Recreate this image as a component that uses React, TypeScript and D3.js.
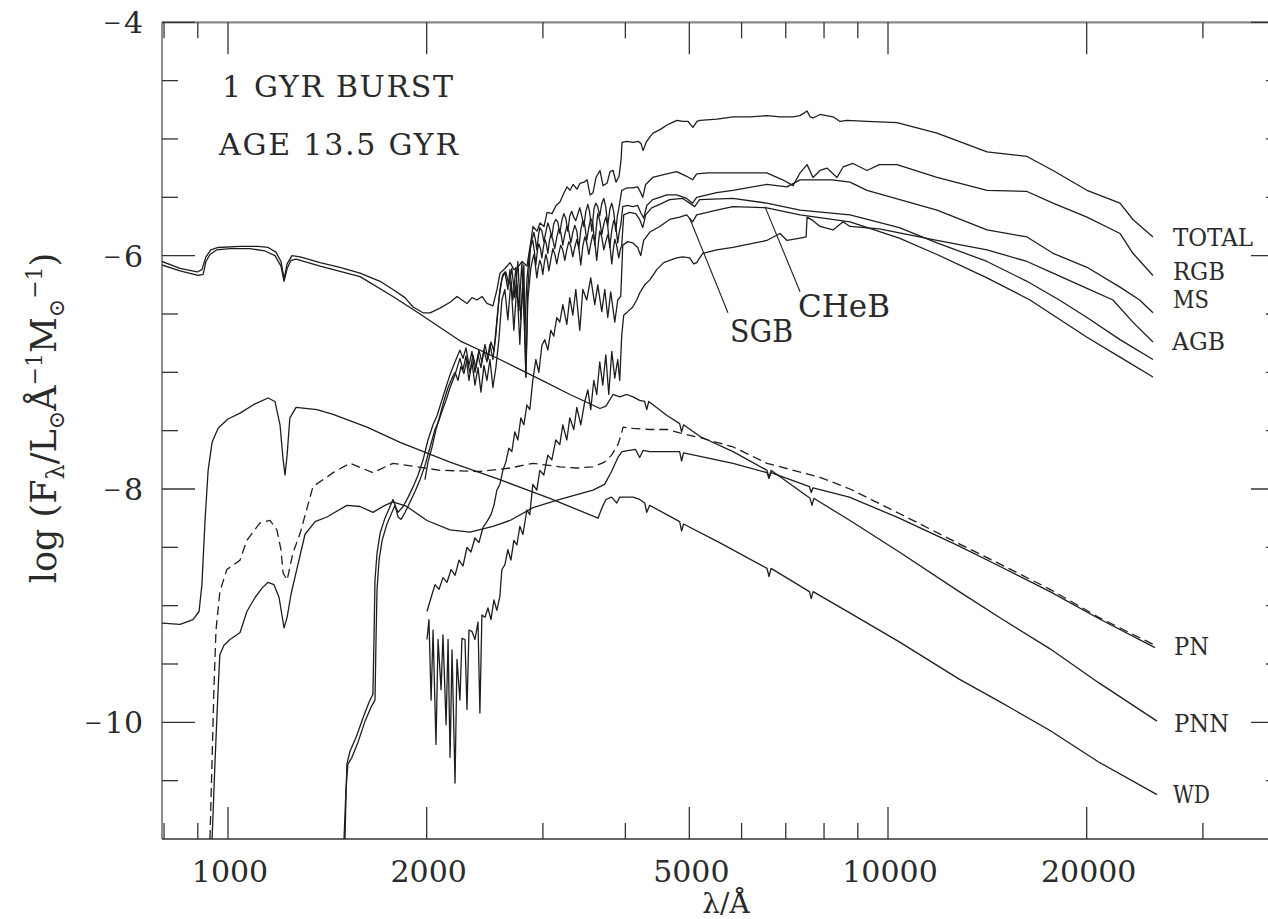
import React from "react";
import * as d3 from "d3";

type Pt = [number, number]; // [wavelength in Å, log F_lambda]

// ---- spectra: [λ (Å), log F_λ] ----
const total: Pt[] = [[794,-6.05],[846,-6.11],[898,-6.14],[913,-6.12],[926,-6.01],[942,-5.95],[966,-5.93],[1043,-5.92],[1110,-5.92],[1150,-5.93],[1182,-5.97],[1203,-6.05],[1216,-6.20],[1229,-6.07],[1250,-6.00],[1286,-6.01],[1379,-6.06],[1478,-6.10],[1585,-6.15],[1700,-6.22],[1778,-6.29],[1854,-6.36],[1907,-6.44],[1975,-6.49],[2024,-6.49],[2095,-6.45],[2170,-6.40],[2223,-6.35],[2262,-6.38],[2302,-6.41],[2342,-6.36],[2384,-6.38],[2426,-6.35],[2468,-6.41],[2520,-6.43],[2556,-6.29],[2583,-6.15],[2628,-6.11],[2675,-6.06],[2712,-6.12],[2741,-6.11],[2790,-6.05],[2838,-6.09],[2878,-5.87],[2898,-5.75],[2939,-5.79],[2970,-5.72],[3012,-5.75],[3044,-5.63],[3097,-5.64],[3141,-5.57],[3184,-5.54],[3218,-5.48],[3264,-5.41],[3298,-5.44],[3333,-5.39],[3380,-5.43],[3415,-5.38],[3464,-5.37],[3500,-5.35],[3537,-5.48],[3573,-5.46],[3611,-5.33],[3661,-5.27],[3700,-5.40],[3752,-5.38],[3792,-5.28],[3832,-5.27],[3872,-5.37],[3913,-5.32],[3940,-5.18],[3954,-5.03],[4023,-5.02],[4108,-5.03],[4181,-5.02],[4225,-5.04],[4255,-5.10],[4300,-5.03],[4360,-4.98],[4406,-4.95],[4514,-4.92],[4626,-4.88],[4707,-4.86],[4789,-4.84],[4890,-4.85],[4977,-4.85],[5064,-4.90],[5136,-4.85],[5191,-4.84],[5508,-4.83],[5824,-4.81],[6178,-4.81],[6556,-4.80],[6862,-4.81],[7181,-4.81],[7358,-4.80],[7540,-4.76],[7619,-4.81],[7699,-4.82],[7889,-4.79],[8254,-4.81],[8457,-4.85],[8667,-4.84],[9294,-4.85],[10318,-4.86],[11864,-4.95],[14125,-5.11],[16240,-5.15],[17783,-5.27],[20022,-5.44],[22465,-5.55],[23500,-5.69],[25205,-5.84]];

const rgb: Pt[] = [[1988,-7.92],[2009,-7.77],[2038,-7.64],[2066,-7.49],[2095,-7.37],[2125,-7.24],[2155,-7.13],[2185,-7.05],[2208,-7.00],[2231,-7.07],[2254,-6.95],[2278,-7.01],[2302,-6.89],[2326,-7.00],[2350,-6.85],[2375,-6.96],[2400,-6.81],[2425,-6.91],[2451,-6.76],[2477,-6.89],[2503,-6.74],[2529,-6.82],[2555,-6.55],[2582,-6.29],[2609,-6.16],[2636,-6.14],[2664,-6.25],[2692,-6.11],[2720,-6.36],[2749,-6.05],[2778,-6.55],[2807,-6.08],[2827,-7.04],[2846,-6.29],[2876,-5.89],[2895,-5.84],[2907,-5.80],[2922,-5.86],[2937,-5.95],[2955,-5.82],[2968,-5.76],[2990,-5.79],[3010,-5.88],[3030,-5.80],[3052,-5.72],[3070,-5.76],[3095,-5.84],[3115,-5.73],[3138,-5.69],[3160,-5.71],[3182,-5.81],[3205,-5.70],[3227,-5.64],[3250,-5.68],[3272,-5.79],[3295,-5.66],[3318,-5.62],[3340,-5.67],[3365,-5.70],[3390,-5.64],[3412,-5.59],[3436,-5.66],[3460,-5.75],[3485,-5.62],[3509,-5.56],[3530,-5.62],[3558,-5.79],[3585,-5.60],[3608,-5.55],[3632,-5.58],[3658,-5.66],[3685,-5.55],[3710,-5.51],[3735,-5.58],[3762,-5.74],[3790,-5.60],[3815,-5.55],[3840,-5.62],[3868,-5.79],[3890,-5.66],[3909,-5.60],[3950,-5.44],[4019,-5.42],[4104,-5.42],[4176,-5.41],[4220,-5.46],[4250,-5.50],[4294,-5.39],[4400,-5.33],[4620,-5.30],[4784,-5.28],[4954,-5.32],[5058,-5.35],[5130,-5.30],[5330,-5.29],[5820,-5.29],[6550,-5.29],[6925,-5.35],[7181,-5.40],[7358,-5.29],[7540,-5.22],[7699,-5.33],[7889,-5.27],[8085,-5.25],[8370,-5.33],[8550,-5.24],[8850,-5.21],[9294,-5.27],[9702,-5.22],[10318,-5.22],[11864,-5.33],[14125,-5.44],[16240,-5.45],[17783,-5.55],[20022,-5.67],[22465,-5.81],[23500,-5.98],[25205,-6.17]];

const ms: Pt[] = [[1504,-11.0],[1509,-10.66],[1514,-10.36],[1530,-10.25],[1563,-10.13],[1602,-9.96],[1635,-9.83],[1658,-9.76],[1664,-9.29],[1670,-8.78],[1682,-8.55],[1700,-8.38],[1729,-8.25],[1760,-8.15],[1778,-8.09],[1797,-8.16],[1810,-8.20],[1842,-8.15],[1875,-8.07],[1908,-7.98],[1941,-7.88],[1975,-7.75],[2009,-7.58],[2045,-7.45],[2074,-7.37],[2103,-7.26],[2117,-7.21],[2147,-7.10],[2170,-7.02],[2208,-6.91],[2246,-6.81],[2270,-6.88],[2294,-6.79],[2318,-6.94],[2342,-6.82],[2367,-7.00],[2392,-6.85],[2417,-6.96],[2442,-6.81],[2468,-6.91],[2494,-6.76],[2520,-6.89],[2546,-6.68],[2573,-6.38],[2600,-6.20],[2627,-6.14],[2655,-6.29],[2674,-6.12],[2702,-6.38],[2730,-6.10],[2759,-6.47],[2788,-6.06],[2817,-6.64],[2837,-6.21],[2866,-5.95],[2882,-5.90],[2896,-5.87],[2912,-5.96],[2927,-6.08],[2944,-5.95],[2958,-5.90],[2975,-5.94],[2989,-6.02],[3005,-5.93],[3020,-5.86],[3036,-5.90],[3052,-5.98],[3068,-5.88],[3084,-5.82],[3105,-5.86],[3127,-5.94],[3150,-5.84],[3171,-5.77],[3193,-5.80],[3216,-5.91],[3238,-5.82],[3261,-5.75],[3284,-5.79],[3307,-5.89],[3330,-5.80],[3353,-5.74],[3377,-5.79],[3400,-5.94],[3424,-5.78],[3448,-5.70],[3472,-5.74],[3496,-5.87],[3521,-5.76],[3545,-5.68],[3570,-5.72],[3595,-5.91],[3614,-5.76],[3633,-5.64],[3658,-5.70],[3684,-5.82],[3710,-5.73],[3736,-5.67],[3762,-5.75],[3788,-5.93],[3815,-5.78],[3841,-5.70],[3868,-5.74],[3895,-5.89],[3915,-5.80],[3936,-5.74],[3964,-5.58],[4033,-5.57],[4104,-5.58],[4176,-5.57],[4220,-5.63],[4264,-5.68],[4310,-5.57],[4400,-5.52],[4509,-5.50],[4620,-5.48],[4784,-5.48],[4954,-5.51],[5058,-5.55],[5130,-5.50],[5500,-5.46],[5820,-5.44],[6550,-5.39],[7030,-5.41],[7358,-5.35],[8230,-5.35],[8758,-5.37],[9294,-5.44],[11864,-5.61],[14125,-5.78],[16240,-5.84],[17783,-5.98],[20022,-6.10],[22465,-6.27],[24060,-6.38],[25205,-6.49]];

const agb: Pt[] = [[2002,-9.29],[2016,-9.12],[2031,-9.81],[2045,-9.21],[2066,-10.19],[2081,-9.29],[2103,-9.72],[2117,-9.25],[2140,-10.02],[2155,-9.29],[2170,-10.30],[2185,-9.38],[2208,-10.52],[2223,-9.46],[2246,-9.81],[2262,-9.28],[2286,-9.29],[2302,-9.89],[2318,-9.21],[2342,-9.22],[2367,-9.29],[2392,-9.14],[2408,-9.92],[2425,-9.08],[2451,-9.10],[2477,-9.02],[2503,-9.12],[2529,-8.95],[2555,-9.04],[2582,-8.92],[2600,-8.69],[2627,-8.65],[2655,-8.52],[2683,-8.61],[2711,-8.44],[2740,-8.48],[2768,-8.32],[2798,-8.39],[2837,-8.18],[2866,-8.22],[2896,-7.96],[2937,-8.01],[2968,-7.84],[3010,-7.88],[3052,-7.71],[3095,-7.75],[3138,-7.58],[3182,-7.62],[3216,-7.45],[3261,-7.58],[3295,-7.39],[3342,-7.49],[3377,-7.30],[3424,-7.45],[3472,-7.25],[3509,-7.15],[3545,-7.32],[3583,-7.07],[3620,-7.19],[3658,-6.91],[3697,-7.11],[3736,-6.85],[3775,-7.19],[3815,-6.82],[3855,-7.05],[3895,-6.89],[3922,-7.07],[3950,-6.68],[3977,-6.51],[4033,-6.48],[4104,-6.44],[4162,-6.38],[4205,-6.32],[4279,-6.25],[4354,-6.21],[4463,-6.12],[4572,-6.06],[4669,-6.04],[4784,-6.02],[4885,-6.01],[5006,-6.02],[5076,-6.07],[5130,-6.06],[5240,-5.98],[5500,-5.95],[5820,-5.93],[6178,-5.90],[6550,-5.87],[6862,-5.81],[7030,-5.87],[7358,-5.85],[7515,-5.84],[7540,-5.67],[7699,-5.70],[7889,-5.75],[8254,-5.78],[8550,-5.71],[8758,-5.75],[9702,-5.77],[11864,-5.87],[14125,-5.95],[16240,-6.05],[17783,-6.15],[20022,-6.28],[21920,-6.38],[23500,-6.57],[25205,-6.74]];

const sgb: Pt[] = [[2002,-9.05],[2031,-8.93],[2059,-8.82],[2088,-8.86],[2117,-8.76],[2147,-8.80],[2178,-8.69],[2208,-8.74],[2239,-8.61],[2270,-8.66],[2302,-8.50],[2334,-8.54],[2367,-8.42],[2400,-8.46],[2434,-8.33],[2468,-8.28],[2503,-8.22],[2529,-8.14],[2555,-8.01],[2582,-7.96],[2609,-7.84],[2636,-7.77],[2664,-7.65],[2692,-7.68],[2720,-7.51],[2749,-7.58],[2778,-7.39],[2807,-7.45],[2837,-7.28],[2866,-7.32],[2896,-7.07],[2927,-6.89],[2958,-7.00],[2989,-6.77],[3020,-6.72],[3052,-6.81],[3084,-6.64],[3116,-6.69],[3149,-6.53],[3182,-6.57],[3216,-6.42],[3261,-6.59],[3295,-6.36],[3330,-6.51],[3365,-6.29],[3412,-6.64],[3448,-6.29],[3496,-6.38],[3545,-6.19],[3595,-6.42],[3633,-6.25],[3684,-6.48],[3723,-6.29],[3762,-6.53],[3801,-6.31],[3855,-6.57],[3895,-6.38],[3936,-6.35],[3964,-5.91],[4033,-5.88],[4104,-5.89],[4176,-5.93],[4220,-6.00],[4264,-5.87],[4354,-5.80],[4509,-5.75],[4669,-5.69],[4834,-5.67],[4954,-5.65],[5006,-5.68],[5058,-5.71],[5130,-5.65],[5500,-5.61],[5820,-5.58],[6550,-5.59],[7358,-5.65],[8758,-5.71],[10402,-5.85],[11864,-5.99],[14125,-6.19],[16410,-6.38],[20022,-6.70],[22465,-6.87],[25205,-7.04]];

const cheb: Pt[] = [[1499,-11.0],[1509,-10.58],[1519,-10.36],[1541,-10.30],[1574,-10.17],[1613,-9.99],[1647,-9.87],[1670,-9.81],[1676,-9.29],[1682,-8.86],[1694,-8.61],[1712,-8.44],[1741,-8.30],[1772,-8.20],[1791,-8.14],[1810,-8.24],[1829,-8.26],[1855,-8.20],[1888,-8.11],[1921,-8.02],[1954,-7.92],[1988,-7.80],[2024,-7.64],[2059,-7.49],[2088,-7.41],[2117,-7.31],[2140,-7.24],[2170,-7.13],[2208,-7.02],[2246,-6.88],[2270,-6.98],[2294,-6.86],[2318,-7.07],[2342,-6.91],[2367,-7.11],[2392,-6.96],[2417,-7.17],[2442,-6.94],[2468,-7.07],[2494,-6.89],[2520,-7.13],[2546,-6.96],[2573,-6.72],[2600,-6.38],[2627,-6.29],[2655,-6.55],[2683,-6.22],[2711,-6.64],[2740,-6.25],[2768,-6.76],[2798,-6.19],[2827,-7.04],[2846,-6.38],[2876,-6.11],[2892,-6.04],[2907,-5.99],[2922,-6.08],[2937,-6.19],[2952,-6.10],[2968,-6.04],[2984,-6.08],[2999,-6.16],[3015,-6.06],[3031,-5.99],[3047,-6.04],[3063,-6.13],[3085,-6.03],[3106,-5.94],[3128,-5.99],[3149,-6.07],[3171,-5.98],[3193,-5.91],[3215,-5.95],[3238,-6.04],[3261,-5.95],[3284,-5.88],[3307,-5.92],[3330,-6.01],[3353,-5.93],[3377,-5.86],[3400,-5.93],[3424,-6.08],[3448,-5.92],[3472,-5.84],[3496,-5.89],[3521,-5.99],[3545,-5.90],[3570,-5.82],[3595,-5.88],[3620,-6.04],[3640,-5.90],[3658,-5.79],[3684,-5.84],[3710,-5.95],[3736,-5.88],[3762,-5.82],[3788,-5.90],[3815,-6.07],[3835,-5.95],[3855,-5.86],[3880,-5.91],[3909,-6.02],[3930,-5.95],[3950,-5.91],[3977,-5.65],[4061,-5.63],[4147,-5.64],[4205,-5.69],[4250,-5.76],[4294,-5.65],[4384,-5.59],[4509,-5.56],[4669,-5.52],[4885,-5.51],[5006,-5.55],[5094,-5.58],[5183,-5.52],[5820,-5.51],[6550,-5.55],[7358,-5.61],[8758,-5.65],[10402,-5.76],[11864,-5.89],[14125,-6.05],[16240,-6.22],[18180,-6.38],[20022,-6.53],[22465,-6.72],[25205,-6.89]];

const pnn: Pt[] = [[794,-6.08],[846,-6.13],[901,-6.17],[917,-6.16],[926,-6.05],[939,-5.99],[962,-5.95],[1007,-5.94],[1080,-5.94],[1138,-5.96],[1178,-6.00],[1203,-6.09],[1216,-6.22],[1229,-6.11],[1246,-6.04],[1268,-6.03],[1379,-6.09],[1585,-6.18],[1778,-6.35],[1954,-6.50],[2246,-6.73],[2583,-6.89],[2970,-7.06],[3298,-7.19],[3661,-7.31],[3738,-7.29],[3832,-7.19],[3922,-7.21],[4023,-7.19],[4108,-7.21],[4205,-7.24],[4279,-7.25],[4310,-7.32],[4340,-7.25],[4626,-7.37],[4834,-7.44],[4867,-7.51],[4900,-7.45],[5191,-7.55],[5824,-7.68],[6556,-7.84],[6603,-7.90],[6650,-7.84],[7619,-8.08],[7670,-8.14],[7720,-8.08],[8758,-8.27],[10402,-8.54],[12819,-8.88],[14738,-9.10],[17600,-9.37],[20850,-9.66],[25560,-9.99]];

const pn: Pt[] = [[939,-11.0],[946,-10.32],[952,-9.72],[959,-9.21],[972,-8.88],[996,-8.69],[1043,-8.61],[1068,-8.44],[1118,-8.29],[1158,-8.27],[1186,-8.35],[1203,-8.52],[1212,-8.72],[1229,-8.78],[1254,-8.55],[1286,-8.38],[1345,-7.98],[1443,-7.86],[1530,-7.78],[1658,-7.86],[1778,-7.78],[1932,-7.81],[2095,-7.84],[2408,-7.85],[2675,-7.82],[2898,-7.78],[3182,-7.81],[3380,-7.82],[3573,-7.81],[3720,-7.77],[3812,-7.71],[3897,-7.62],[3940,-7.54],[3968,-7.47],[4108,-7.48],[4354,-7.49],[4626,-7.49],[4834,-7.52],[5191,-7.56],[5824,-7.64],[6556,-7.78],[7889,-7.90],[8758,-8.00],[10402,-8.21],[12819,-8.47],[14738,-8.64],[17600,-8.86],[20850,-9.10],[25380,-9.34]];

// hot nebular-phase companion that runs beside the PN curve
const pnHot: Pt[] = [[946,-11.0],[956,-10.32],[966,-9.72],[972,-9.42],[986,-9.34],[1007,-9.29],[1043,-9.23],[1068,-9.05],[1099,-8.93],[1126,-8.85],[1150,-8.80],[1174,-8.82],[1195,-8.93],[1207,-9.08],[1216,-9.19],[1229,-9.10],[1246,-8.90],[1276,-8.65],[1308,-8.39],[1355,-8.28],[1412,-8.24],[1514,-8.14],[1585,-8.15],[1658,-8.20],[1729,-8.14],[1778,-8.11],[1866,-8.15],[2002,-8.27],[2169,-8.35],[2326,-8.37],[2520,-8.32],[2675,-8.27],[2898,-8.16],[3182,-8.09],[3573,-8.01],[3720,-7.96],[3812,-7.85],[3897,-7.73],[3954,-7.68],[4143,-7.66],[4205,-7.73],[4255,-7.67],[4354,-7.68],[4642,-7.68],[4834,-7.68],[4867,-7.76],[4900,-7.69],[5191,-7.72],[5824,-7.78],[6556,-7.86],[6603,-7.91],[6650,-7.86],[7602,-7.98],[7650,-8.03],[7700,-7.99],[8739,-8.07],[10402,-8.25],[12819,-8.49],[14738,-8.66],[17600,-8.88],[20850,-9.11],[25380,-9.36]];

const wd: Pt[] = [[794,-9.15],[846,-9.16],[885,-9.12],[904,-9.05],[913,-8.82],[923,-8.27],[933,-7.84],[946,-7.60],[966,-7.48],[1000,-7.40],[1043,-7.35],[1099,-7.27],[1150,-7.22],[1178,-7.25],[1199,-7.45],[1212,-7.75],[1220,-7.88],[1229,-7.71],[1241,-7.39],[1268,-7.30],[1364,-7.32],[1443,-7.36],[1624,-7.47],[1823,-7.60],[2169,-7.77],[2582,-7.92],[3073,-8.08],[3636,-8.25],[3687,-8.16],[3738,-8.09],[3812,-8.07],[3882,-8.12],[3922,-8.07],[4108,-8.07],[4205,-8.09],[4279,-8.12],[4310,-8.20],[4354,-8.14],[4834,-8.28],[4867,-8.36],[4900,-8.30],[5557,-8.46],[6556,-8.68],[6603,-8.75],[6650,-8.68],[7602,-8.88],[7650,-8.94],[7700,-8.88],[8739,-9.06],[10402,-9.31],[12819,-9.63],[14738,-9.82],[17600,-10.07],[20850,-10.34],[25560,-10.62]];

// leader lines for the in-plot labels
const sgbLeader: Pt[] = [[5006,-5.68],[5722,-6.49]];
const chebLeader: Pt[] = [[6510,-5.58],[7358,-6.31]];

// ---- axes ----
const xMajor = [1000, 2000, 5000, 10000, 20000];
const xMinor = [800, 900, 3000, 4000, 6000, 7000, 8000, 9000, 30000, 40000];
const yMajor = [-10, -8, -6, -4];
const yMinor = [-10.5, -9.5, -9, -8.5, -7.5, -7, -6.5, -5.5, -5, -4.5];

const W = 1268, H = 919;
const LEFT = 162, RIGHT = 1284, TOP = 22.3, BOTTOM = 839;
const INK = "#1e1e1e";
const FONT = "'DejaVu Serif', serif";

export default function App() {
  const x = d3.scaleLog().domain([Math.pow(10, 2.9), Math.pow(10, 4.6)]).range([LEFT, RIGHT]);
  const y = d3.scaleLinear().domain([-11, -4]).range([BOTTOM, TOP]);
  const line = d3.line<Pt>().x(d => x(d[0])).y(d => y(d[1]));

  const solidSeries = [wd, pnHot, pnn, agb, sgb, cheb, ms, rgb, total];

  const endLabels: { text: string; x: number; y: number; w: number }[] = [
    { text: "TOTAL", x: 1173, y: 246, w: 80 },
    { text: "RGB", x: 1173, y: 280, w: 52 },
    { text: "MS", x: 1173, y: 308, w: 36 },
    { text: "AGB", x: 1172, y: 350, w: 53 },
    { text: "PN", x: 1174, y: 655, w: 35 },
    { text: "PNN", x: 1174, y: 732, w: 55 },
    { text: "WD", x: 1173, y: 803, w: 37 },
  ];

  return (
    <svg
      width={W}
      height={H}
      viewBox={`0 0 ${W} ${H}`}
      style={{ position: "absolute", left: 0, top: 0, background: "#fff" }}
      fontFamily={FONT}
    >
      <defs>
        <clipPath id="plot-area">
          <rect x={LEFT} y={TOP} width={RIGHT - LEFT} height={BOTTOM - TOP} />
        </clipPath>
      </defs>
      <rect x={0} y={0} width={W} height={H} fill="#fff" />

      {/* frame */}
      <line x1={LEFT} y1={TOP} x2={RIGHT} y2={TOP} stroke="#888" strokeWidth={2.2} />
      <line x1={LEFT} y1={TOP} x2={LEFT} y2={BOTTOM} stroke="#666" strokeWidth={1.5} />
      <line x1={LEFT} y1={BOTTOM} x2={RIGHT} y2={BOTTOM} stroke="#333" strokeWidth={1.6} />
      <line x1={RIGHT} y1={TOP} x2={RIGHT} y2={BOTTOM} stroke="#333" strokeWidth={1.5} />

      {/* x ticks, bottom and top */}
      {xMajor.map(v => (
        <g key={`xM${v}`} stroke="#333" strokeWidth={1.3}>
          <line x1={x(v)} x2={x(v)} y1={BOTTOM} y2={BOTTOM - 32} />
          <line x1={x(v)} x2={x(v)} y1={TOP} y2={TOP + 32} />
        </g>
      ))}
      {xMinor.map(v => (
        <g key={`xm${v}`} stroke="#333" strokeWidth={1.3}>
          <line x1={x(v)} x2={x(v)} y1={BOTTOM} y2={BOTTOM - 16} />
          <line x1={x(v)} x2={x(v)} y1={TOP} y2={TOP + 16} />
        </g>
      ))}
      {/* y ticks, left and right */}
      {yMajor.map(v => (
        <g key={`yM${v}`} stroke="#333" strokeWidth={1.3}>
          <line x1={LEFT} x2={LEFT + 33} y1={y(v)} y2={y(v)} />
          <line x1={RIGHT} x2={RIGHT - 33} y1={y(v)} y2={y(v)} />
        </g>
      ))}
      {yMinor.map(v => (
        <g key={`ym${v}`} stroke="#333" strokeWidth={1.3}>
          <line x1={LEFT} x2={LEFT + 16} y1={y(v)} y2={y(v)} />
          <line x1={RIGHT} x2={RIGHT - 18} y1={y(v)} y2={y(v)} />
        </g>
      ))}

      {/* tick labels */}
      {xMajor.map(v => (
        <text key={`xl${v}`} x={x(v) + 2} y={882} fontSize={30} textAnchor="middle" fill="#2a2a2a">
          {v}
        </text>
      ))}
      {yMajor.map(v => (
        <text key={`yl${v}`} x={143} y={y(v) + 11} fontSize={30} textAnchor="end" fill="#2a2a2a">
          <tspan fontFamily="'Liberation Serif', serif">−</tspan>
          <tspan dx={3}>{Math.abs(v)}</tspan>
        </text>
      ))}

      {/* axis titles */}
      <text x={726} y={913} fontSize={28} textAnchor="middle" fill="#2a2a2a">λ/Å</text>
      <text transform="translate(56,418) rotate(-90)" fontSize={35} textAnchor="middle" fill="#2a2a2a">
        log (F<tspan dy={8} fontSize={24}>λ</tspan>
        <tspan dy={-8}>/L</tspan>
        <tspan dy={8} fontSize={22}>⊙</tspan>
        <tspan dy={-8}>Å</tspan>
        <tspan dy={-14} fontSize={22}>−1</tspan>
        <tspan dy={14}>M</tspan>
        <tspan dy={8} fontSize={22}>⊙</tspan>
        <tspan dy={-22} fontSize={22}>−1</tspan>
        <tspan dy={14}>)</tspan>
      </text>

      {/* curves */}
      <g clipPath="url(#plot-area)" fill="none" stroke={INK} strokeWidth={1.3} strokeLinejoin="round">
        {solidSeries.map((s, i) => (
          <path key={`s${i}`} d={line(s) || ""} />
        ))}
        <path d={line(pn) || ""} strokeDasharray="9 5" />
        <path d={line(sgbLeader) || ""} strokeWidth={1.1} />
        <path d={line(chebLeader) || ""} strokeWidth={1.1} />
      </g>

      {/* annotations */}
      <text x={222} y={97} fontSize={30} fill="#2a2a2a" textLength={231} lengthAdjust="spacing">1 GYR BURST</text>
      <text x={219} y={155} fontSize={30} fill="#2a2a2a" textLength={239} lengthAdjust="spacing">AGE 13.5 GYR</text>
      <text x={730} y={342} fontSize={32} fill="#2a2a2a" textLength={63} lengthAdjust="spacingAndGlyphs">SGB</text>
      <text x={798} y={317} fontSize={32} fill="#2a2a2a" textLength={92} lengthAdjust="spacingAndGlyphs">CHeB</text>
      {endLabels.map(l => (
        <text key={l.text} x={l.x} y={l.y} fontSize={25} fill="#2a2a2a" textLength={l.w} lengthAdjust="spacingAndGlyphs">
          {l.text}
        </text>
      ))}
    </svg>
  );
}
